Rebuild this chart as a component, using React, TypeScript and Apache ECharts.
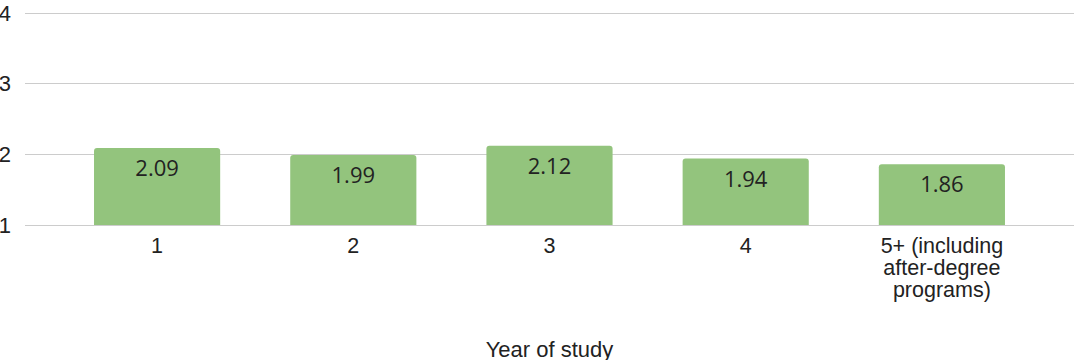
import React, { useEffect, useRef } from "react";
import * as echarts from "echarts";

const categories = ["1", "2", "3", "4", "5+ (including\nafter-degree\nprograms)"];
const values = [2.09, 1.99, 2.12, 1.94, 1.86];
const yTicks = [1, 2, 3, 4];
const xAxisTitle = "Year of study";

const BAR_COLOR = "#93c47d";
const TEXT_COLOR = "#222222";
const GRID_COLOR = "#cccccc";
const AXIS_FONT = "Liberation Sans, Arial, sans-serif";

export default function App() {
  const ref = useRef<HTMLDivElement>(null);

  useEffect(() => {
    if (!ref.current) return;
    const chart = echarts.init(ref.current, undefined, { renderer: "svg" });
    const yMin = yTicks[0];
    const yMax = yTicks[yTicks.length - 1];
    chart.setOption({
      animation: false,
      grid: [
        // wide grid carries the horizontal gridlines and tick labels
        { left: 25, right: 0, top: 13, bottom: 135, outerBoundsMode: "none" },
        // inner grid carries the bars
        { left: 59, right: 34, top: 13, bottom: 135, outerBoundsMode: "none" },
      ],
      xAxis: [
        { type: "value", gridIndex: 0, show: false, min: 0, max: 1 },
        {
          type: "category",
          gridIndex: 1,
          data: categories,
          axisLine: { show: false },
          axisTick: { show: false },
          axisLabel: {
            color: TEXT_COLOR,
            fontFamily: AXIS_FONT,
            fontSize: 21.5,
            lineHeight: 22,
            margin: 10,
            interval: 0,
          },
          name: xAxisTitle,
          nameLocation: "middle",
          nameGap: 113,
          nameTextStyle: {
            color: TEXT_COLOR,
            fontFamily: AXIS_FONT,
            fontSize: 22,
          },
        },
      ],
      yAxis: [
        {
          type: "value",
          gridIndex: 0,
          min: yMin,
          max: yMax,
          interval: 1,
          axisLine: { show: false },
          axisTick: { show: false },
          axisLabel: {
            color: TEXT_COLOR,
            fontFamily: AXIS_FONT,
            fontSize: 22,
            margin: 14,
          },
          splitLine: { show: true, lineStyle: { color: GRID_COLOR, width: 1 } },
        },
        {
          type: "value",
          gridIndex: 1,
          min: yMin,
          max: yMax,
          interval: 1,
          show: false,
          splitLine: { show: false },
        },
      ],
      series: [
        {
          type: "bar",
          xAxisIndex: 1,
          yAxisIndex: 1,
          data: values,
          barCategoryGap: "35.7%",
          itemStyle: { color: BAR_COLOR, borderRadius: [3, 3, 0, 0] },
          label: {
            show: true,
            position: "insideTop",
            distance: 8,
            color: TEXT_COLOR,
            fontFamily: "Open Sans, Noto Sans, sans-serif",
            fontSize: 22,
            formatter: (p: any) => p.value.toFixed(2),
          },
        },
      ],
    });
    return () => chart.dispose();
  }, []);

  return (
    <div
      ref={ref}
      style={{ position: "fixed", left: 0, top: 0, width: 1074, height: 360, background: "#ffffff" }}
    />
  );
}
